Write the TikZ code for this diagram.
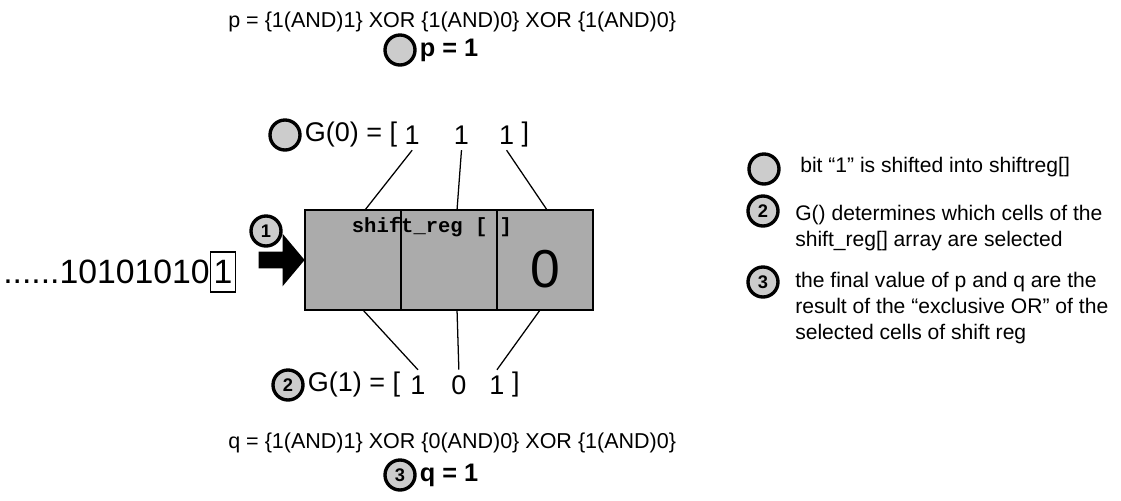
\documentclass[tikz,border=0pt]{standalone}
\usepackage{fontspec}
\setmainfont{Liberation Sans}
\setmonofont{Liberation Mono}
\usetikzlibrary{positioning, shapes.arrows}
\tikzset{
  numc/.style ={circle, draw=black, line width=2.4pt, fill=black!20,
                minimum size=0.75cm, inner sep=0pt,
                font=\fontsize{13}{13}\selectfont\bfseries},
  eqn/.style  ={inner sep=0pt, font=\fontsize{15.3}{18}\selectfont},
  res/.style  ={inner sep=0pt, font=\fontsize{18}{21}\selectfont\bfseries},
  gtxt/.style ={inner xsep=1pt, inner ysep=4pt, font=\fontsize{19.2}{23}\selectfont},
  note/.style ={inner sep=0pt, align=left, font=\fontsize{15}{18.5}\selectfont},
  cell/.style ={rectangle, draw=black, line width=1.6pt, fill=black!33,
                minimum width=2.4cm, minimum height=2.5cm,
                inner sep=0pt, outer sep=0pt},
  sel/.style  ={line width=0.9pt},
  feedarr/.style={single arrow, fill=black, inner sep=0.2cm,
                minimum height=1.15cm, single arrow head extend=0.45cm,
                single arrow tip angle=100}
}
\begin{document}
\begin{tikzpicture}[x=0.025cm, y=-0.025cm]
  \useasboundingbox (0,0) rectangle (1121,501);
  % result p
  \node[eqn, anchor=west] (peq) at (228,22) {p = \{1(AND)1\} XOR \{1(AND)0\} XOR \{1(AND)0\}};
  \node[numc] (pc) at (400,50) {};
  \node[res, right=2pt of pc] (pres) {p = 1};
  % G(0)
  \node[numc] (gc0) at (285,135) {};
  \node[gtxt, right=1pt of gc0] (g0) {G(0) = [};
  \node[gtxt, right=3pt of g0] (g0a) {1};
  \node[gtxt, right=22pt of g0a] (g0b) {1};
  \node[gtxt, right=19pt of g0b] (g0c) {1};
  \node[gtxt, right=3pt of g0c] (g0e) {]};
  % register
  \node[cell] (r1) at (353,260) {};
  \node[cell, right=0pt of r1] (r2) {};
  \node[cell, right=0pt of r2] (r3) {};
  \node[inner sep=0pt, font=\ttfamily\bfseries\fontsize{14.6}{16}\selectfont] (regname) at (432,227) {shift\_reg [ ]};
  \node[inner sep=0pt, font=\fontsize{38}{38}\selectfont] (bit0) at (545,269) {0};
  % input bits
  \node[feedarr, anchor=tip] (feed) at (r1.west) {};
  \node[numc] (c1) at (266,231) {1};
  \node[inner sep=0pt, anchor=east, font=\fontsize{24}{24}\selectfont] (bits) at (210,272) {......10101010};
  \node[draw, line width=0.8pt, minimum width=0.625cm, minimum height=1cm, inner sep=0pt,
        font=\fontsize{24}{24}\selectfont, right=0pt of bits] (newbit) {1};
  % G(1)
  \node[numc] (gc1) at (288,385) {2};
  \node[gtxt, right=1pt of gc1] (g1) {G(1) = [};
  \node[gtxt, right=5pt of g1] (g1a) {1};
  \node[gtxt, right=16pt of g1a] (g1b) {0};
  \node[gtxt, right=14pt of g1b] (g1c) {1};
  \node[gtxt, right=3pt of g1c] (g1e) {]};
  % result q
  \node[eqn, anchor=west] (qeq) at (228,443) {q = \{1(AND)1\} XOR \{0(AND)0\} XOR \{1(AND)0\}};
  \node[numc] (qc) at (400,475) {3};
  \node[res, right=2pt of qc] (qres) {q = 1};
  % taps
  \draw[sel] (g0a.south) -- ([xshift=0.3cm]r1.north);
  \draw[sel] (g0b.south) -- ([xshift=0.2cm]r2.north);
  \draw[sel] (g0c.south) -- ([xshift=0.05cm]r3.north);
  \draw[sel] ([xshift=0.25cm]r1.south) -- (g1a.north);
  \draw[sel] ([xshift=0.2cm]r2.south) -- (g1b.north);
  \draw[sel] ([xshift=-0.125cm]r3.south) -- (g1c.north);
  % legend
  \node[numc] (l1) at (764,169) {};
  \node[note, anchor=west] (t1) at (800,167) {bit “1” is shifted into shiftreg[]};
  \node[numc] (l2) at (763,211) {2};
  \node[note, anchor=north west] (t2) at (795,205) {G() determines which cells of the\\shift\_reg[] array are selected};
  \node[numc] (l3) at (763,282) {3};
  \node[note, anchor=north west] (t3) at (795,272) {the final value of p and q are the\\result of the “exclusive OR” of the\\selected cells of shift reg};
\end{tikzpicture}
\end{document}
